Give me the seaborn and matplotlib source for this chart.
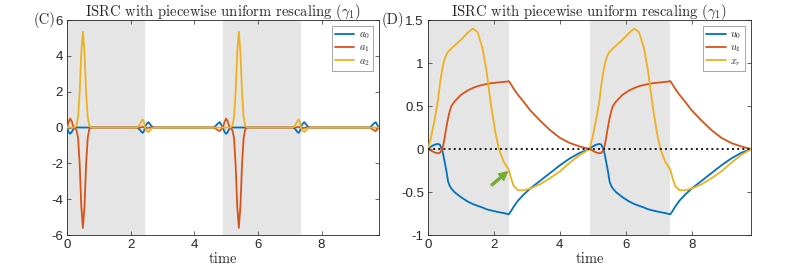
import numpy as np
import pandas as pd
import matplotlib
matplotlib.use('Agg')
import matplotlib.pyplot as plt
import seaborn as sns

# one period of the periodic signal, repeated twice
period = 4.9
half = 2.45

# panel C: coefficients a0, a1, a2
t_c = [0, 0.05, 0.1, 0.15, 0.2, 0.25, 0.3, 0.35, 0.4, 0.45, 0.5, 0.55, 0.6, 0.65, 0.7, 0.75, 0.8, 0.9,
       2.2, 2.28, 2.34, 2.38, 2.42, 2.46, 2.51, 2.56, 2.61, 2.67, 2.75,
       4.6, 4.68, 4.74, 4.8, 4.85]
a0 = [0, -0.25, -0.35, -0.25, -0.08, 0, 0, 0, 0, 0, 0, 0, 0, 0, 0, 0, 0, 0,
      0, -0.1, -0.25, -0.3, -0.2, 0.05, 0.22, 0.3, 0.18, 0.05, 0,
      0, 0.1, 0.22, 0.3, 0.15]
a1 = [0, 0.3, 0.5, 0.35, 0.05, -0.05, -0.15, -0.6, -2.1, -4.4, -5.6, -4.4, -2.1, -0.6, -0.1, 0, 0, 0,
      0, 0, 0.02, 0.03, 0.02, -0.02, -0.03, -0.02, 0, 0, 0,
      0, -0.07, -0.15, -0.2, -0.1]
a2 = [0, 0, 0, 0, 0, 0.02, 0.1, 0.6, 2.0, 4.2, 5.35, 4.2, 2.0, 0.6, 0.1, 0.02, 0, 0,
      0, 0.15, 0.35, 0.45, 0.3, -0.05, -0.2, -0.25, -0.15, -0.04, 0,
      0, 0, 0, 0, 0]

# panel D: u0, u1, x_r
t_d = [0, 0.1, 0.2, 0.3, 0.36, 0.42, 0.46, 0.5, 0.56, 0.61, 0.66, 0.71, 0.8, 1.0, 1.2, 1.36, 1.5, 1.65,
       1.77, 1.92, 2.04, 2.15, 2.3, 2.4, 2.45, 2.52, 2.6, 2.73, 2.9, 3.1, 3.4, 3.7, 4.0, 4.3, 4.6]
u0 = [0, 0.03, 0.05, 0.06, 0.05, 0.0, -0.06, -0.14, -0.26, -0.38, -0.43, -0.46, -0.50, -0.56, -0.61, -0.64, -0.66, -0.68,
      -0.70, -0.715, -0.725, -0.735, -0.745, -0.755, -0.76, -0.72, -0.67, -0.60, -0.53, -0.46, -0.37, -0.28, -0.19, -0.11, -0.045]
u1 = [0, -0.02, -0.04, -0.05, -0.045, -0.01, 0.04, 0.12, 0.26, 0.36, 0.44, 0.50, 0.55, 0.63, 0.68, 0.71, 0.73, 0.745,
      0.755, 0.765, 0.77, 0.775, 0.78, 0.785, 0.79, 0.75, 0.70, 0.63, 0.55, 0.45, 0.33, 0.22, 0.13, 0.07, 0.03]
xr = [0, 0.15, 0.34, 0.56, 0.75, 0.90, 0.98, 1.04, 1.10, 1.13, 1.15, 1.17, 1.20, 1.27, 1.35, 1.40, 1.36, 1.18,
      0.92, 0.49, 0.20, 0.0, -0.15, -0.21, -0.24, -0.34, -0.43, -0.48, -0.48, -0.46, -0.41, -0.34, -0.26, -0.16, -0.07]

colors = ['#0072BD', '#D95319', '#EDB120']


def two_periods(t, y):
    # repeat the period once and close at t = 2*period
    tt = np.concatenate([t, np.array(t) + period, [2 * period]])
    yy = np.concatenate([y, y, [0]])
    return tt, yy


sns.set_theme(style='ticks')
plt.rcParams['font.family'] = ['Liberation Sans', 'DejaVu Sans']
plt.rcParams['mathtext.fontset'] = 'cm'
plt.rcParams['axes.unicode_minus'] = False

fig = plt.figure(figsize=(8.1, 2.7), dpi=100)
axC = fig.add_axes([0.0827, 0.1296, 0.385, 0.7963])
axD = fig.add_axes([0.5284, 0.1296, 0.3988, 0.7963])

title = r'ISRC with piecewise uniform rescaling ($\gamma_1$)'

for ax, t, series, labels, ylim, yticks in [
        (axC, t_c, [a0, a1, a2], [r'$a_0$', r'$a_1$', r'$a_2$'], (-6, 6), np.arange(-6, 7, 2)),
        (axD, t_d, [u0, u1, xr], [r'$u_0$', r'$u_1$', r'$x_r$'], (-1, 1.5), np.arange(-1, 1.51, 0.5))]:
    ax.axvspan(0, half, color='#e5e5e5', lw=0, zorder=0)
    ax.axvspan(period, period + half, color='#e5e5e5', lw=0, zorder=0)
    for y, lab, c in zip(series, labels, colors):
        tt, yy = two_periods(t, y)
        df = pd.DataFrame({'time': tt, 'val': yy})
        sns.lineplot(data=df, x='time', y='val', ax=ax, color=c, lw=1.3, label=lab,
                     estimator=None, sort=False, zorder=3)
    ax.set_xlim(0, 2 * period)
    ax.set_ylim(*ylim)
    ax.set_xticks([0, 2, 4, 6, 8])
    ax.set_yticks(yticks)
    ax.set_yticklabels(['%g' % v for v in yticks])
    ax.tick_params(direction='in', top=True, right=True, labelsize=9.5, length=3,
                   width=0.5, colors='#262626', pad=3)
    for s in ax.spines.values():
        s.set_linewidth(0.6)
        s.set_color('#262626')
        s.set_visible(True)
    ax.set_ylabel('')
    ax.set_xlabel('time', fontfamily='cmr10', fontsize=10.5, labelpad=1)
    ax.set_title(title, fontfamily='cmr10', fontsize=10.5, pad=3)
    leg = ax.legend(loc='upper right', fontsize=7.5, frameon=True, fancybox=False,
                    edgecolor='#999999', framealpha=1, handlelength=1.9,
                    labelspacing=0.15, borderpad=0.3, handletextpad=0.4,
                    borderaxespad=0.6)
    leg.get_frame().set_linewidth(0.6)
    ax.grid(False)

axD.axhline(0, color='k', ls=':', lw=1.4, zorder=4)
axD.annotate('', xy=(2.41, -0.265), xytext=(1.93, -0.42),
             arrowprops=dict(facecolor='#77AC30', edgecolor='#77AC30',
                             width=1.5, headwidth=6, headlength=6))

fig.text(0.068, 0.925, '(C)', fontfamily='cmr10', fontsize=10.5, va='center', ha='right')
fig.text(0.4985, 0.925, '(D)', fontfamily='cmr10', fontsize=10.5, va='center', ha='right')

fig.savefig('out.png', dpi=100)
